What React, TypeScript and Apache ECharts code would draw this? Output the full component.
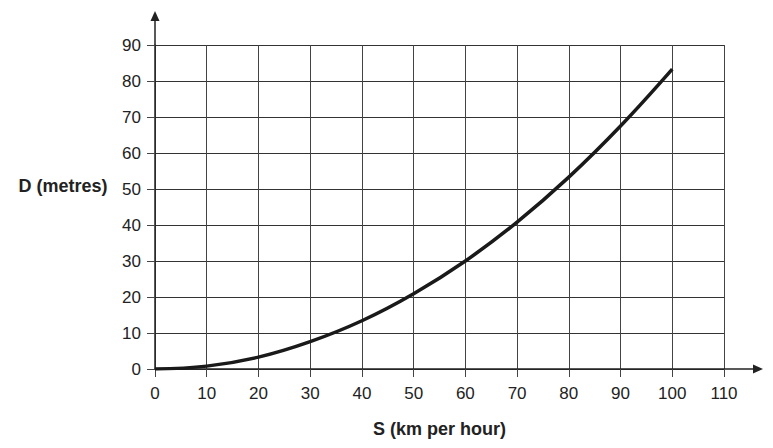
import React, { useEffect, useRef } from "react";
import * as echarts from "echarts";

const speedKmh = [0, 10, 20, 30, 40, 50, 60, 70, 80, 90, 100];
const distanceM = [0, 0.8, 3.3, 7.6, 13.4, 20.9, 30.0, 40.8, 53.3, 67.5, 83.3];
const xTicks = [0, 10, 20, 30, 40, 50, 60, 70, 80, 90, 100, 110];
const yTicks = [0, 10, 20, 30, 40, 50, 60, 70, 80, 90];
const xTitle = "S (km per hour)";
const yTitle = "D (metres)";

const FONT = "'Liberation Sans', Arial, sans-serif";
const INK = "#222";

export default function App() {
  const ref = useRef<HTMLDivElement>(null);
  useEffect(() => {
    if (!ref.current) return;
    const chart = echarts.init(ref.current, undefined, { renderer: "svg" });
    const xMax = xTicks[xTicks.length - 1];
    const yMax = yTicks[yTicks.length - 1];
    chart.setOption({
      animation: false,
      backgroundColor: "#fff",
      grid: { left: 155, right: 49, top: 45, bottom: 79, containLabel: false },
      xAxis: {
        type: "value",
        min: xTicks[0],
        max: xMax,
        interval: 10,
        name: xTitle,
        nameLocation: "middle",
        nameGap: 51,
        nameTextStyle: { fontFamily: FONT, fontSize: 18, fontWeight: "bold", color: INK },
        axisLine: { show: true, onZero: false, lineStyle: { color: INK, width: 1.5 } },
        axisTick: { show: true, length: 8, lineStyle: { color: "#444", width: 1 } },
        axisLabel: { fontFamily: FONT, fontSize: 17, color: INK, margin: 16 },
        splitLine: { show: true, lineStyle: { color: "#444", width: 1 } },
      },
      yAxis: {
        type: "value",
        min: yTicks[0],
        max: yMax,
        interval: 10,
        axisLine: { show: true, onZero: false, lineStyle: { color: INK, width: 1.5 } },
        axisTick: { show: true, length: 8, lineStyle: { color: "#444", width: 1 } },
        axisLabel: { fontFamily: FONT, fontSize: 17, color: INK, margin: 14 },
        splitLine: { show: true, lineStyle: { color: "#333", width: 1 } },
      },
      series: [
        {
          type: "line",
          data: speedKmh.map((s, i) => [s, distanceM[i]]),
          smooth: 0.4,
          showSymbol: false,
          lineStyle: { color: "#1a1a1a", width: 3.5 },
          z: 5,
        },
      ],
    });
    const o = chart.convertToPixel({ gridIndex: 0 }, [0, 0]) as number[];
    const xe = chart.convertToPixel({ gridIndex: 0 }, [xMax, 0]) as number[];
    const ye = chart.convertToPixel({ gridIndex: 0 }, [0, yMax]) as number[];
    const xArrowEnd = xe[0] + 39;
    const yArrowEnd = ye[1] - 34;
    chart.setOption({
      graphic: [
        {
          type: "line",
          shape: { x1: xe[0], y1: o[1], x2: xArrowEnd - 8, y2: o[1] },
          style: { stroke: INK, lineWidth: 1.5 },
        },
        {
          type: "polygon",
          shape: { points: [[xArrowEnd, o[1]], [xArrowEnd - 10, o[1] - 4.5], [xArrowEnd - 10, o[1] + 4.5]] },
          style: { fill: INK },
        },
        {
          type: "line",
          shape: { x1: o[0], y1: ye[1], x2: o[0], y2: yArrowEnd + 8 },
          style: { stroke: INK, lineWidth: 1.5 },
        },
        {
          type: "polygon",
          shape: { points: [[o[0], yArrowEnd], [o[0] - 4.5, yArrowEnd + 10], [o[0] + 4.5, yArrowEnd + 10]] },
          style: { fill: INK },
        },
        {
          type: "text",
          x: 63,
          y: 186,
          style: {
            text: yTitle,
            fontFamily: FONT,
            fontSize: 18,
            fontWeight: "bold",
            fill: INK,
            align: "center",
            verticalAlign: "middle",
          },
        },
      ],
    });
    return () => chart.dispose();
  }, []);
  return (
    <div
      ref={ref}
      style={{ position: "fixed", left: 0, top: 0, width: 773, height: 448, background: "#fff" }}
    />
  );
}
